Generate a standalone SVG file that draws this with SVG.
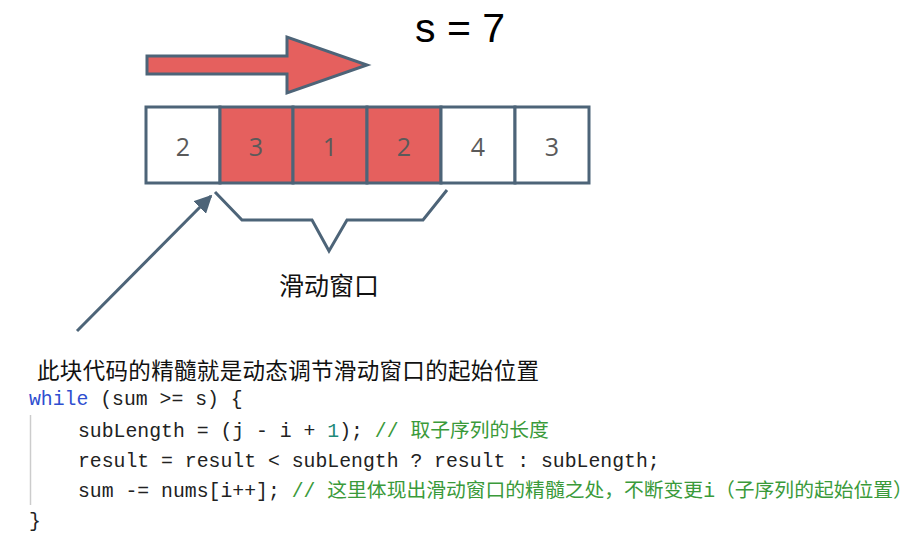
<svg xmlns="http://www.w3.org/2000/svg" width="914" height="540" viewBox="0 0 914 540">
<defs>
<style>
.cell{stroke:#4d6478;stroke-width:3}
.w{fill:#ffffff}
.r{fill:#e5605e}
.num{font-family:"Open Sans","Liberation Sans",sans-serif;font-size:25px;fill:#5a5a5a;text-anchor:middle}
.code{font-family:"Liberation Mono","Noto Sans CJK SC",monospace;font-size:19.8px;fill:#222222}
.kw{fill:#2f4fd0}
.lit{fill:#1f8a78}
.cm{fill:#3a9a3a}
.line{stroke:#4d6478;stroke-width:3;fill:none}
</style>
<marker id="ah" viewBox="0 0 10 10" refX="9" refY="5" markerWidth="6" markerHeight="6" orient="auto">
<path d="M0,0 L10,5 L0,10 z" fill="#4d6478"/>
</marker>
</defs>
<rect width="914" height="540" fill="#ffffff"/>
<text x="415" y="42" font-family="Liberation Sans, sans-serif" font-size="41" fill="#000">s = 7</text>
<g id="big-arrow">
<path d="M147,56 L287,56 L287,37 L367,65 L287,93 L287,74 L147,74 Z" fill="#e5605e" stroke="#4d6478" stroke-width="3" stroke-linejoin="miter"/>
</g>
<g id="array">
<g id="cell0"><rect class="cell w" x="146" y="107" width="74" height="76"/><text class="num" x="183" y="156">2</text></g>
<g id="cell1"><rect class="cell r" x="220" y="107" width="73" height="76"/><text class="num" x="256" y="156">3</text></g>
<g id="cell2"><rect class="cell r" x="293" y="107" width="74" height="76"/><text class="num" x="330" y="156">1</text></g>
<g id="cell3"><rect class="cell r" x="367" y="107" width="74" height="76"/><text class="num" x="404" y="156">2</text></g>
<g id="cell4"><rect class="cell w" x="441" y="107" width="74" height="76"/><text class="num" x="478" y="156">4</text></g>
<g id="cell5"><rect class="cell w" x="515" y="107" width="74" height="76"/><text class="num" x="552" y="156">3</text></g>
</g>
<g id="connectors">
<path class="line" d="M215,192 L242,220 L312,220 L329,251 L347,220 L423,220 L447,190"/>
<line class="line" x1="77" y1="331" x2="211" y2="196" marker-end="url(#ah)"/>
</g>
<g id="window-label">
<text x="279" y="295" font-family="Noto Sans CJK SC, sans-serif" font-size="25" textLength="100" fill="#111">滑动窗口</text>
</g>
<g id="code-block">
<text x="37" y="379" font-family="Noto Sans CJK SC, sans-serif" font-size="22.5" textLength="502" fill="#111">此块代码的精髓就是动态调节滑动窗口的起始位置</text>
<line x1="30.5" y1="415" x2="30.5" y2="505" stroke="#cccccc" stroke-width="1.5"/>
<text class="code" x="29" y="405"><tspan class="kw">while</tspan> (sum &gt;= s) {</text>
<text class="code" x="78" y="437">subLength = (j - i + <tspan class="lit">1</tspan>); <tspan class="cm">// 取子序列的长度</tspan></text>
<text class="code" x="78" y="467">result = result &lt; subLength ? result : subLength;</text>
<text class="code" x="78" y="497">sum -= nums[i++]; <tspan class="cm">// 这里体现出滑动窗口的精髓之处，不断变更i（子序列的起始位置）</tspan></text>
<text class="code" x="29" y="527">}</text>
</g>
</svg>
